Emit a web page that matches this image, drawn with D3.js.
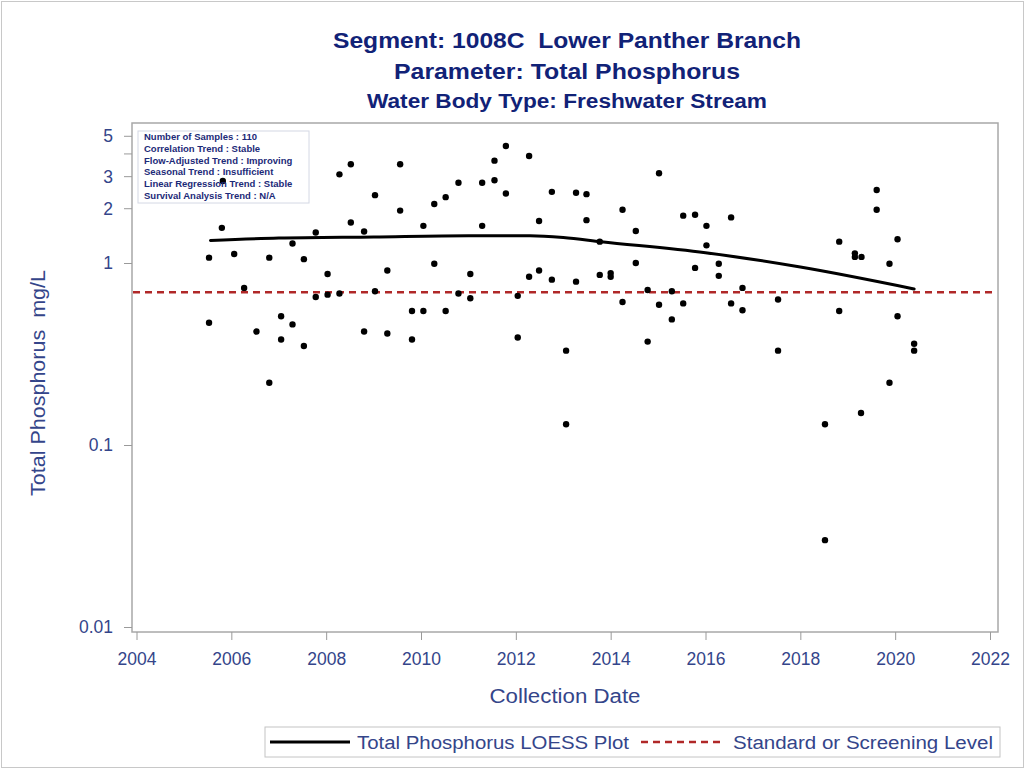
<!DOCTYPE html>
<html lang="en">
<head>
<meta charset="utf-8">
<title>Segment 1008C Total Phosphorus</title>
<script src="https://cdn.jsdelivr.net/npm/d3@7"></script>
<style>
  body { margin: 0; background: #fff; }
  svg { display: block; font-family: "Liberation Sans", Arial, sans-serif; }
  .tick text { fill: #34458a; font-size: 17.5px; }
  .tick line { stroke: #9a9a9a; }
</style>
</head>
<body>
<svg width="1026" height="770"></svg>
<script>
  // sample dates (decimal years) and measured values, mg/L
  const sampleYears = [
    2005.80, 2005.53, 2006.06, 2006.80, 2007.29, 2007.53, 2007.78, 2008.03, 2008.28, 2008.52,
    2008.52, 2008.80, 2009.03, 2009.29, 2009.56, 2009.56, 2010.05, 2010.28, 2010.28, 2010.52,
    2010.79, 2011.04, 2011.29, 2011.29, 2011.55, 2011.55, 2011.79, 2011.79, 2012.28, 2012.49,
    2012.28, 2012.49, 2012.76, 2012.76, 2013.27, 2013.27, 2006.27, 2007.78, 2008.03, 2008.28,
    2009.03, 2010.79, 2011.04, 2012.04, 2005.53, 2006.53, 2007.05, 2007.05, 2007.29, 2007.53,
    2008.80, 2009.29, 2009.81, 2010.05, 2009.81, 2010.52, 2012.04, 2013.06, 2006.80, 2013.06,
    2015.02, 2013.49, 2013.49, 2014.25, 2014.53, 2014.53, 2013.77, 2014.00, 2014.00, 2014.78,
    2015.29, 2014.25, 2015.02, 2015.53, 2015.29, 2014.78, 2015.53, 2015.78, 2016.02, 2016.02,
    2015.78, 2016.28, 2016.28, 2016.54, 2016.78, 2016.54, 2016.78, 2017.53, 2017.53, 2013.77,
    2018.82, 2018.82, 2019.15, 2019.15, 2019.29, 2019.61, 2019.61, 2019.88, 2020.05, 2020.05,
    2020.40, 2020.40, 2018.52, 2018.52, 2019.28, 2019.88, 2005.82
  ];
  const sampleValues = [
    1.56, 1.07, 1.12, 1.07, 1.28, 1.05, 1.47, 0.87, 3.07, 3.49,
    1.67, 1.49, 2.36, 0.91, 3.49, 1.94, 1.60, 2.11, 0.99, 2.30,
    2.76, 0.87, 2.76, 1.60, 3.65, 2.85, 4.39, 2.41, 3.87, 1.70,
    0.84, 0.91, 2.46, 0.81, 2.43, 0.79, 0.73, 0.65, 0.67, 0.68,
    0.70, 0.68, 0.64, 0.66, 0.47, 0.42, 0.51, 0.38, 0.46, 0.35,
    0.42, 0.41, 0.545, 0.545, 0.38, 0.545, 0.39, 0.33, 0.22, 0.13,
    3.11, 2.39, 1.72, 1.96, 1.50, 1.00, 0.86, 0.88, 0.84, 0.71,
    0.70, 0.61, 0.59, 0.60, 0.49, 0.37, 1.82, 1.84, 1.60, 1.25,
    0.94, 0.99, 0.85, 1.78, 0.73, 0.60, 0.55, 0.63, 0.33, 1.31,
    1.31, 0.545, 1.13, 1.08, 1.08, 2.52, 1.96, 0.99, 1.35, 0.51,
    0.36, 0.33, 0.13, 0.030, 0.15, 0.22, 2.82
  ];

  // LOESS curve
  const loessYears = [2005.56, 2007.0, 2009.0, 2011.0, 2012.3, 2013.0, 2013.8, 2016.0, 2018.0, 2020.4];
  const loessValues = [1.33, 1.37, 1.39, 1.41, 1.41, 1.38, 1.31, 1.14, 0.95, 0.72];

  const standardLevel = 0.69;

  const xTicks = [2004, 2006, 2008, 2010, 2012, 2014, 2016, 2018, 2020, 2022];
  const yTicks = [0.01, 0.1, 1, 2, 3, 4, 5];
  const yTickLabels = ["0.01", "0.1", "1", "2", "3", "", "5"];

  const titles = [
    "Segment: 1008C\u00a0 Lower Panther Branch",
    "Parameter: Total Phosphorus",
    "Water Body Type: Freshwater Stream"
  ];
  const infoLines = [
    "Number of Samples : 110",
    "Correlation Trend : Stable",
    "Flow-Adjusted Trend : Improving",
    "Seasonal Trend : Insufficient",
    "Linear Regression Trend : Stable",
    "Survival Analysis Trend : N/A"
  ];
  const legendLabels = ["Total Phosphorus LOESS Plot", "Standard or Screening Level"];

  const svg = d3.select("svg"),
      frame = { left: 132, right: 998, top: 123, bottom: 632 };

  svg.append("rect")
      .attr("x", 1.5).attr("y", 1.5)
      .attr("width", 1022).attr("height", 766)
      .attr("fill", "#fff").attr("stroke", "#c8c8c8");

  let xScale = d3.scaleLinear()
      .domain([2004, 2022])
      .range([136.5, 990]);

  let yScale = d3.scaleLog()
      .domain([0.01, 1])
      .range([627, 263]);

  // titles (the reference text is a bit wider than the font, so stretch it)
  svg.selectAll(".title")
      .data(titles)
      .enter().append("text")
      .attr("class", "title")
      .attr("x", 567)
      .attr("y", (d, i) => [48, 79, 108][i])
      .attr("text-anchor", "middle")
      .attr("font-weight", "bold")
      .attr("font-size", (d, i) => i < 2 ? "22px" : "19.5px")
      .attr("textLength", (d, i) => [468, 346, 400][i])
      .attr("lengthAdjust", "spacingAndGlyphs")
      .attr("fill", "#112277")
      .text(d => d);

  // plot frame
  svg.append("rect")
      .attr("x", frame.left).attr("y", frame.top)
      .attr("width", frame.right - frame.left)
      .attr("height", frame.bottom - frame.top)
      .attr("fill", "none")
      .attr("stroke", "#a8a8a8")
      .attr("stroke-width", 1.5);

  let xAxis = svg.append("g")
      .attr("transform", "translate(0," + frame.bottom + ")")
      .call(d3.axisBottom(xScale).tickValues(xTicks).tickFormat(d3.format("d"))
          .tickSize(8).tickSizeOuter(0).tickPadding(13));
  xAxis.select(".domain").remove();

  let yAxis = svg.append("g")
      .attr("transform", "translate(" + frame.left + ",0)")
      .call(d3.axisLeft(yScale).tickValues(yTicks)
          .tickFormat((d, i) => yTickLabels[i])
          .tickSize(8).tickSizeOuter(0).tickPadding(11));
  yAxis.select(".domain").remove();
  yAxis.selectAll(".tick text").attr("dy", "0.34em");

  // axis labels
  svg.append("text")
      .attr("transform", "translate(45,383) rotate(-90)")
      .attr("text-anchor", "middle")
      .attr("font-size", "20px")
      .attr("textLength", 226)
      .attr("lengthAdjust", "spacingAndGlyphs")
      .attr("fill", "#34458a")
      .text("Total Phosphorus\u00a0 mg/L");

  svg.append("text")
      .attr("x", 565).attr("y", 703)
      .attr("text-anchor", "middle")
      .attr("font-size", "20px")
      .attr("textLength", 151)
      .attr("lengthAdjust", "spacingAndGlyphs")
      .attr("fill", "#34458a")
      .text("Collection Date");

  // standard level
  svg.append("line")
      .attr("x1", frame.left + 1).attr("x2", frame.right - 1)
      .attr("y1", yScale(standardLevel)).attr("y2", yScale(standardLevel))
      .attr("stroke", "#b02828")
      .attr("stroke-width", 2.5)
      .attr("stroke-dasharray", "7,5");

  // samples
  let samples = sampleYears.map((d, i) => ({ year: d, value: sampleValues[i] }));
  svg.append("g")
      .selectAll("circle")
      .data(samples)
      .enter().append("circle")
      .attr("cx", d => xScale(d.year))
      .attr("cy", d => yScale(d.value))
      .attr("r", 3.2)
      .attr("fill", "#000");

  // LOESS
  let loess = loessYears.map((d, i) => ({ year: d, value: loessValues[i] }));
  let line = d3.line()
      .x(d => xScale(d.year))
      .y(d => yScale(d.value))
      .curve(d3.curveMonotoneX);

  svg.append("path")
      .datum(loess)
      .attr("fill", "none")
      .attr("stroke", "#000")
      .attr("stroke-width", 3)
      .attr("stroke-linecap", "round")
      .attr("d", line);

  // info box
  svg.append("rect")
      .attr("x", 138).attr("y", 131)
      .attr("width", 171).attr("height", 72)
      .attr("fill", "none")
      .attr("stroke", "#d4d8e4");

  svg.selectAll(".info")
      .data(infoLines)
      .enter().append("text")
      .attr("class", "info")
      .attr("x", 144)
      .attr("y", (d, i) => 140 + i * 11.8)
      .attr("font-size", "9.5px")
      .attr("font-weight", "bold")
      .attr("fill", "#1c2a78")
      .text(d => d);

  // legend
  let legend = svg.append("g");
  legend.append("rect")
      .attr("x", 265).attr("y", 727)
      .attr("width", 735).attr("height", 30)
      .attr("fill", "none")
      .attr("stroke", "#c4c4c4");

  legend.append("line")
      .attr("x1", 270).attr("x2", 350)
      .attr("y1", 742).attr("y2", 742)
      .attr("stroke", "#000").attr("stroke-width", 3);

  legend.append("line")
      .attr("x1", 641).attr("x2", 725)
      .attr("y1", 742).attr("y2", 742)
      .attr("stroke", "#b02828").attr("stroke-width", 2.5)
      .attr("stroke-dasharray", "7,5");

  legend.selectAll(".leg")
      .data(legendLabels)
      .enter().append("text")
      .attr("class", "leg")
      .attr("x", (d, i) => [357, 733][i])
      .attr("y", 749)
      .attr("font-size", "18px")
      .attr("textLength", (d, i) => [272, 260][i])
      .attr("lengthAdjust", "spacingAndGlyphs")
      .attr("fill", "#34458a")
      .text(d => d);
</script>
</body>
</html>
